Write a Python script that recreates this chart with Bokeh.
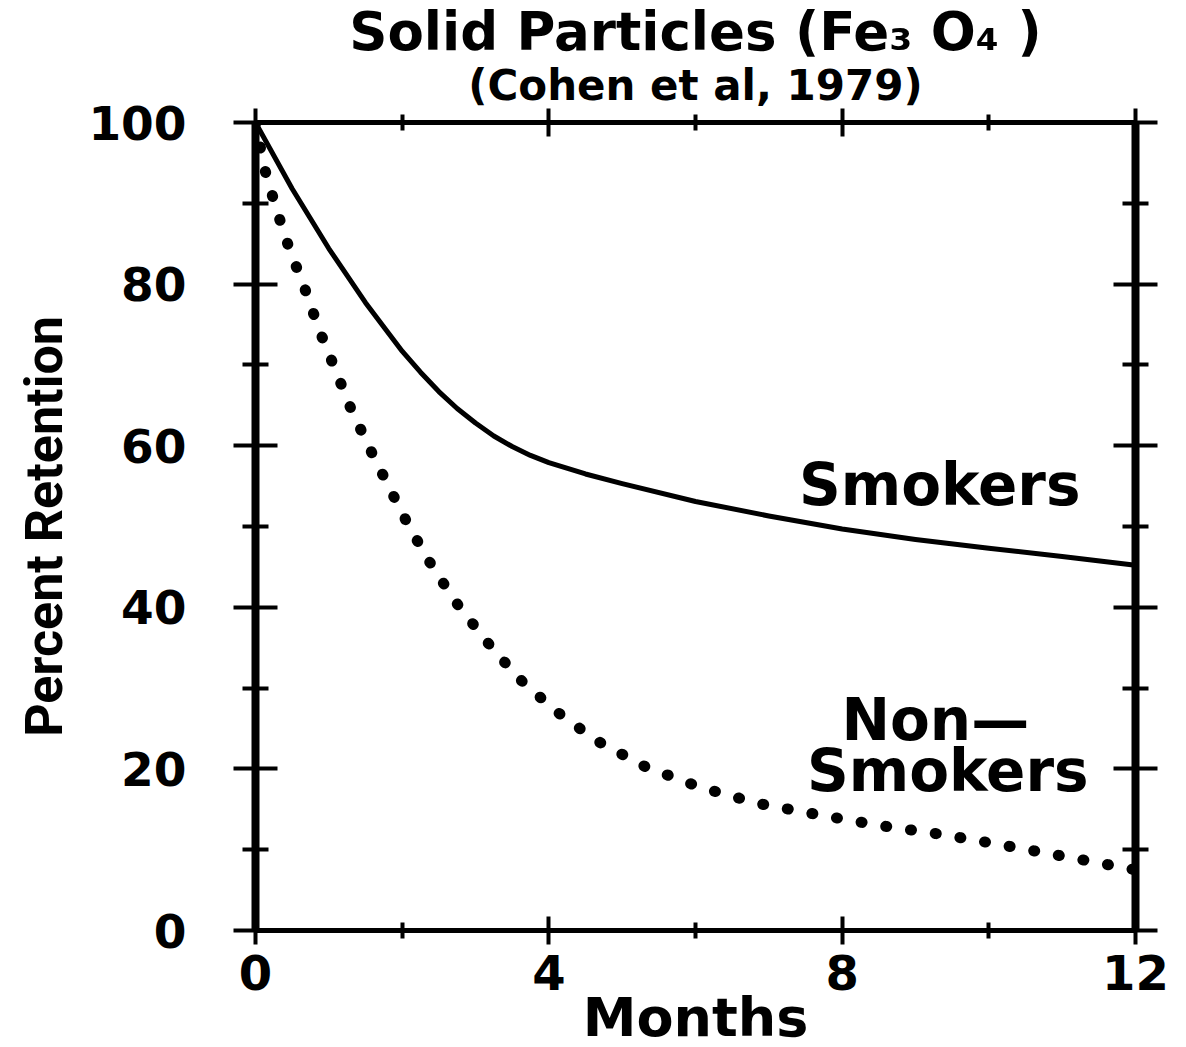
from bokeh.plotting import figure
from bokeh.models import Range1d, LinearAxis, FixedTicker, Label, Title, CustomJSTickFormatter
from bokeh.embed import file_html
from bokeh.resources import INLINE

# ---- data ----
smokers_months = [0, 0.5, 1, 1.5, 2, 2.25, 2.5, 2.75, 3, 3.25, 3.5, 3.75, 4, 4.5, 5,
                  6, 7, 8, 9, 10, 11, 12]
smokers_retention = [100, 91.8, 84.4, 77.7, 71.7, 69.1, 66.7, 64.6, 62.8, 61.2, 59.9,
                     58.8, 57.9, 56.5, 55.3, 53.1, 51.3, 49.7, 48.4, 47.3, 46.3, 45.2]

nonsmokers_months = [0, 0.12, 0.28, 0.46, 0.67, 0.87, 1.08, 1.30, 1.56, 1.83, 2.10,
                     2.42, 2.76, 3.15, 3.58, 4.09, 4.65, 5.31, 6.07, 6.87, 7.69, 8.51,
                     9.35, 10.17, 11.01, 11.83, 12]
nonsmokers_retention = [100, 94.4, 89.4, 84.4, 79.5, 74.3, 69.6, 64.6, 59.6, 54.7, 49.9,
                        44.9, 40.3, 35.8, 31.3, 27.2, 23.5, 20.3, 17.7, 15.7, 14.3, 13.0,
                        11.9, 10.6, 9.2, 7.8, 7.5]

x_major_ticks = [0, 4, 8, 12]
x_minor_ticks = [2, 6, 10]
y_major_ticks = [0, 20, 40, 60, 80, 100]
y_minor_ticks = [10, 30, 50, 70, 90]

title_text = "Solid Particles (Fe\u2083 O\u2084 )"
subtitle_text = "(Cohen et al, 1979)"
x_label = "Months"
y_label = "Percent Retention"

FONT = "DejaVu Sans"

p = figure(frame_width=880, frame_height=808,
           x_range=Range1d(0, 12), y_range=Range1d(0, 100),
           output_backend="svg", toolbar_location=None,
           min_border_left=255, min_border_right=43,
           min_border_top=122, min_border_bottom=10,
           background_fill_color="white", border_fill_color="white")
p.outline_line_color = None
p.xgrid.visible = False
p.ygrid.visible = False

xt = FixedTicker(ticks=x_major_ticks, minor_ticks=x_minor_ticks)
yt = FixedTicker(ticks=y_major_ticks, minor_ticks=y_minor_ticks)


def style_axis(ax, line_w, maj_in, maj_out, min_in, min_out):
    ax.axis_line_width = line_w
    ax.axis_line_color = "black"
    ax.major_tick_line_width = 4
    ax.minor_tick_line_width = 4
    ax.major_tick_line_color = "black"
    ax.minor_tick_line_color = "black"
    ax.major_tick_in = maj_in
    ax.major_tick_out = maj_out
    ax.minor_tick_in = min_in
    ax.minor_tick_out = min_out
    ax.major_label_text_font = FONT
    ax.major_label_text_font_style = "bold"
    ax.major_label_text_color = "black"


# bottom axis
xa = p.xaxis[0]
xa.ticker = xt
style_axis(xa, 5, 14, 14, 8, 8)
xa.major_label_text_font_size = "48px"
xa.major_label_standoff = 10
xa.axis_label = x_label
xa.axis_label_text_font = FONT
xa.axis_label_text_font_style = "bold"
xa.axis_label_text_font_size = "54px"
xa.axis_label_text_color = "black"
xa.axis_label_standoff = -7

# left axis
ya = p.yaxis[0]
ya.ticker = yt
style_axis(ya, 8, 22, 22, 13, 13)
ya.major_label_text_font_size = "47px"
ya.major_label_standoff = 47
ya.axis_label = y_label
ya.axis_label_text_font = "Roboto"
ya.axis_label_text_font_style = "bold"
ya.axis_label_text_font_size = "52px"
ya.axis_label_text_color = "black"
ya.axis_label_standoff = 10

blank = CustomJSTickFormatter(code="return ''")

# top axis (ticks only)
ta = LinearAxis(ticker=xt, formatter=blank)
style_axis(ta, 5, 14, 14, 8, 8)
ta.major_label_text_font_size = "0px"
ta.major_label_standoff = 0
p.add_layout(ta, "above")

# right axis (ticks only)
ra = LinearAxis(ticker=yt, formatter=blank)
style_axis(ra, 8, 22, 22, 13, 13)
ra.major_label_text_font_size = "0px"
ra.major_label_standoff = 0
p.add_layout(ra, "right")

# titles (first added sits closest to the plot)
p.add_layout(Title(text=subtitle_text, align="center", text_font=FONT,
                   text_font_style="bold", text_font_size="42px",
                   text_color="black", standoff=-2), "above")
p.add_layout(Title(text=title_text, align="center", text_font=FONT,
                   text_font_style="bold", text_font_size="53px",
                   text_color="black", standoff=-4), "above")

# curves
p.line(smokers_months, smokers_retention, line_color="black", line_width=5,
       line_join="round", line_cap="round")
p.line(nonsmokers_months, nonsmokers_retention, line_color="black", line_width=11,
       line_dash="1 24", line_cap="round")

# curve labels
for lx, ly, txt in [(9.33, 55.1, "Smokers"), (9.27, 26.0, "Non\u2014"), (9.44, 19.8, "Smokers")]:
    p.add_layout(Label(x=lx, y=ly, text=txt, text_align="center",
                       text_baseline="alphabetic", text_font=FONT, text_font_style="bold",
                       text_font_size="58px", text_color="black"))

open("out.html", "w").write(file_html(p, INLINE))
